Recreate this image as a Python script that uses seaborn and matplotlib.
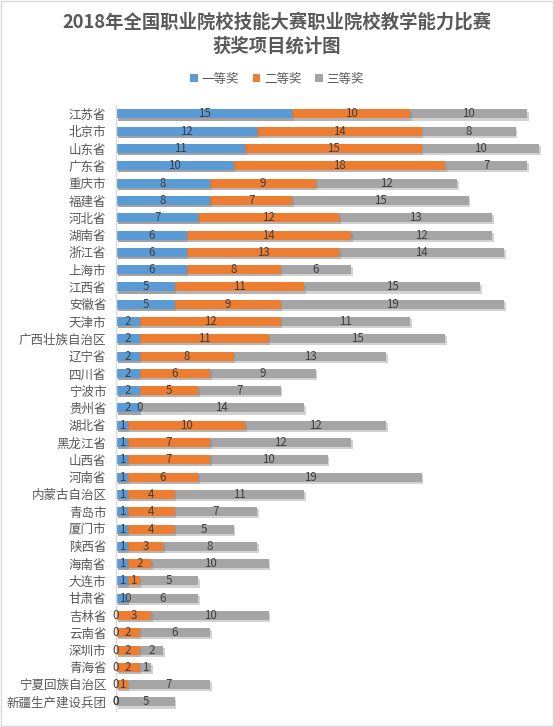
import numpy as np
import pandas as pd
import matplotlib
matplotlib.use("Agg")
import matplotlib.pyplot as plt
import matplotlib.patheffects as pe
from matplotlib.patches import Patch, Rectangle
import seaborn as sns

# Data
regions = ["江苏省", "北京市", "山东省", "广东省", "重庆市", "福建省", "河北省", "湖南省",
           "浙江省", "上海市", "江西省", "安徽省", "天津市", "广西壮族自治区", "辽宁省",
           "四川省", "宁波市", "贵州省", "湖北省", "黑龙江省", "山西省", "河南省",
           "内蒙古自治区", "青岛市", "厦门市", "陕西省", "海南省", "大连市", "甘肃省",
           "吉林省", "云南省", "深圳市", "青海省", "宁夏回族自治区", "新疆生产建设兵团"]
first = [15, 12, 11, 10, 8, 8, 7, 6, 6, 6, 5, 5, 2, 2, 2, 2, 2, 2,
         1, 1, 1, 1, 1, 1, 1, 1, 1, 1, 1, 0, 0, 0, 0, 0, 0]
second = [10, 14, 15, 18, 9, 7, 12, 14, 13, 8, 11, 9, 12, 11, 8, 6, 5, 0,
          10, 7, 7, 6, 4, 4, 4, 3, 2, 1, 0, 3, 2, 2, 2, 1, 0]
third = [10, 8, 10, 7, 12, 15, 13, 12, 14, 6, 15, 19, 11, 15, 13, 9, 7, 14,
         12, 12, 10, 19, 11, 7, 5, 8, 10, 5, 6, 10, 6, 2, 1, 7, 5]
series = ["一等奖", "二等奖", "三等奖"]
colors = ["#5B9BD5", "#ED7D31", "#A5A5A5"]

df = pd.DataFrame({"地区": regions, "一等奖": first, "二等奖": second, "三等奖": third})
df["c1"] = df["一等奖"]
df["c2"] = df["c1"] + df["二等奖"]
df["c3"] = df["c2"] + df["三等奖"]

sns.set_style("white")
plt.rcParams["font.family"] = ["Noto Sans CJK SC", "DejaVu Sans"]

fig = plt.figure(figsize=(5.54, 7.27), dpi=100)
ax = fig.add_axes([0.2094, 0.0225, 0.785, 0.8326])

shadow = [pe.SimplePatchShadow(offset=(1.2, -1.5), alpha=0.35, shadow_rgbFace="#7f7f7f"), pe.Normal()]

# stacked by drawing cumulative totals from back to front
for col, color in zip(["c3", "c2", "c1"], colors[::-1]):
    sns.barplot(data=df, x=col, y="地区", orient="h", color=color, width=0.52,
                saturation=1, ax=ax, order=regions)

for p in ax.patches:
    p.set_path_effects(shadow)
    p.set_linewidth(0)

# segment labels (centered, including zero-width ones)
for i, row in df.iterrows():
    starts = [0, row["c1"], row["c2"]]
    for s, name in zip(starts, series):
        v = row[name]
        ax.text(s + v / 2, i, str(v), ha="center", va="center",
                fontsize=8.3, color="#404040")

ax.set_xlim(0, 37)
ax.set_ylim(len(regions) - 0.5, -0.5)
ax.set_xlabel("")
ax.set_ylabel("")
ax.set_xticks([])
ax.tick_params(axis="y", length=0, pad=7, labelsize=9, labelcolor="#595959")
for side in ["top", "right", "bottom"]:
    ax.spines[side].set_visible(False)
ax.spines["left"].set_color("#D9D9D9")
ax.spines["left"].set_linewidth(1)

fig.text(0.5, 1 - 22 / 727, "2018年全国职业院校技能大赛职业院校教学能力比赛",
         ha="center", va="center", fontsize=13.2, fontweight="bold", color="#595959")
fig.text(0.5, 1 - 46 / 727, "获奖项目统计图",
         ha="center", va="center", fontsize=13.2, fontweight="bold", color="#595959")

handles = [Patch(facecolor=c, edgecolor="none") for c in colors]
fig.legend(handles, series, loc="center", bbox_to_anchor=(0.5, 1 - 79 / 727), ncol=3,
           frameon=False, fontsize=9, labelcolor="#595959", handlelength=0.6,
           handleheight=0.6, handletextpad=0.3, columnspacing=1.1)

fig.patches.append(Rectangle((0.002, 0.002), 0.996, 0.996, transform=fig.transFigure,
                             fill=False, edgecolor="#D9D9D9", linewidth=1))

fig.savefig("out.png", dpi=100)
